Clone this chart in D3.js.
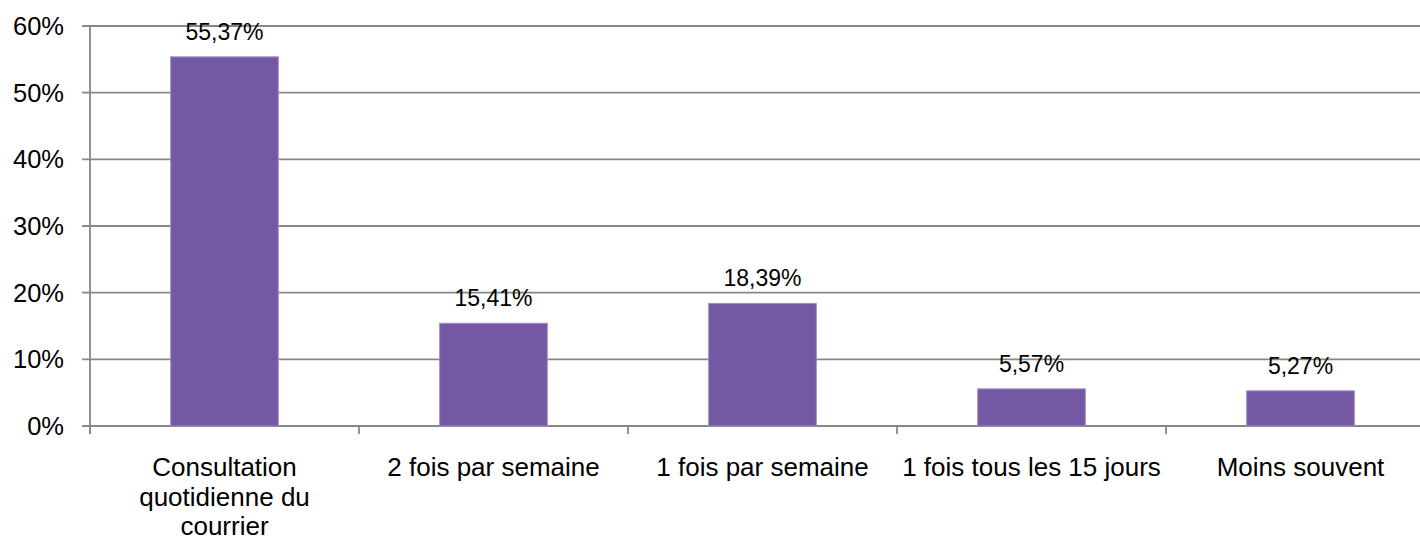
<!DOCTYPE html>
<html>
<head>
<meta charset="utf-8">
<script src="https://cdn.jsdelivr.net/npm/d3@7"></script>
<style>
  body { margin: 0; background: #fff; }
  svg text { font-family: 'Liberation Sans', Arial, sans-serif; fill: #000; }
</style>
</head>
<body>
<svg id="chart" width="1420" height="538"></svg>
<script>
const categories = ['Consultation\nquotidienne du\ncourrier', '2 fois par semaine', '1 fois par semaine', '1 fois tous les 15 jours', 'Moins souvent'];
const values = [55.37, 15.41, 18.39, 5.57, 5.27];
const labels = ['55,37%', '15,41%', '18,39%', '5,57%', '5,27%'];
const yTicks = [0, 10, 20, 30, 40, 50, 60];

const svg = d3.select('#chart');
const plotLeft = 90, plotRight = 1435, plotTop = 26, plotBottom = 426;

const x = d3.scaleBand().domain(d3.range(categories.length)).range([plotLeft, plotRight]).paddingInner(0).paddingOuter(0);
const y = d3.scaleLinear().domain([0, 60]).range([plotBottom, plotTop]);

// gridlines
svg.append('g')
  .selectAll('line')
  .data(yTicks)
  .enter()
  .append('line')
  .attr('x1', plotLeft - 8)
  .attr('x2', 1420)
  .attr('y1', (d) => y(d))
  .attr('y2', (d) => y(d))
  .attr('stroke', '#878787')
  .attr('stroke-width', 1.8);

// y axis line
svg.append('line')
  .attr('x1', plotLeft).attr('x2', plotLeft)
  .attr('y1', plotTop).attr('y2', plotBottom + 8)
  .attr('stroke', '#878787')
  .attr('stroke-width', 1.8);

// x ticks at category boundaries
svg.append('g')
  .selectAll('line')
  .data(d3.range(categories.length))
  .enter()
  .append('line')
  .attr('x1', (d) => x(d))
  .attr('x2', (d) => x(d))
  .attr('y1', plotBottom)
  .attr('y2', plotBottom + 8)
  .attr('stroke', '#878787')
  .attr('stroke-width', 1.8);

// y tick labels
svg.append('g')
  .selectAll('text')
  .data(yTicks)
  .enter()
  .append('text')
  .text((d) => d + '%')
  .attr('text-anchor', 'end')
  .attr('font-size', 25.5)
  .attr('x', 64)
  .attr('y', (d) => y(d) + 9);

// bars
const barW = x.bandwidth() * 0.4;
svg.append('g')
  .selectAll('rect')
  .data(values)
  .enter()
  .append('rect')
  .attr('x', (d, i) => x(i) + x.bandwidth() / 2 - barW / 2)
  .attr('y', (d) => y(d))
  .attr('width', barW)
  .attr('height', (d) => plotBottom - y(d))
  .attr('fill', '#7458a4')
  .attr('stroke', '#a08cc6')
  .attr('stroke-width', 1);

// value labels
svg.append('g')
  .selectAll('text')
  .data(values)
  .enter()
  .append('text')
  .text((d, i) => labels[i])
  .attr('text-anchor', 'middle')
  .attr('font-size', 23)
  .attr('x', (d, i) => x(i) + x.bandwidth() / 2)
  .attr('y', (d) => y(d) - 17);

// category labels
const cat = svg.append('g')
  .selectAll('text')
  .data(categories)
  .enter()
  .append('text')
  .attr('text-anchor', 'middle')
  .attr('font-size', 26)
  .attr('transform', (d, i) => `translate(${x(i) + x.bandwidth() / 2}, 476)`);

cat.selectAll('tspan')
  .data((d) => d.split('\n'))
  .enter()
  .append('tspan')
  .attr('x', 0)
  .attr('y', (d, i) => i * 29.5)
  .text((d) => d);
</script>
</body>
</html>
